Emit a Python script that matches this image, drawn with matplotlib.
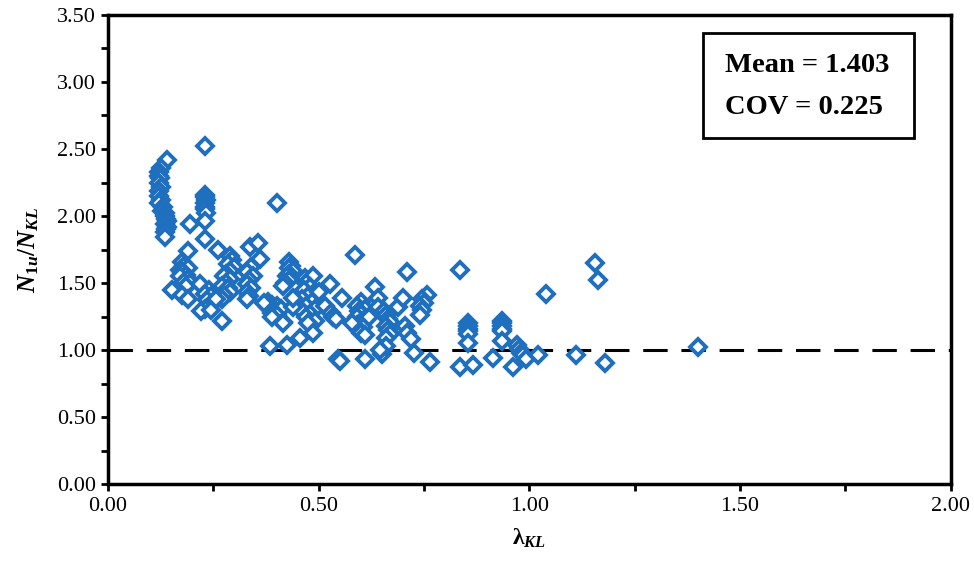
import matplotlib
matplotlib.use('Agg')
import matplotlib.pyplot as plt
from matplotlib.patches import Rectangle
from matplotlib.ticker import MultipleLocator, FormatStrFormatter

plt.rcParams['font.family'] = 'Liberation Serif'
plt.rcParams['mathtext.fontset'] = 'custom'
plt.rcParams['mathtext.rm'] = 'Liberation Serif:bold'
plt.rcParams['mathtext.it'] = 'Liberation Serif:bold:italic'
plt.rcParams['mathtext.bf'] = 'Liberation Serif:bold'

# lambda_KL values, grouped roughly by cluster
lam = [
    0.139, 0.125, 0.12, 0.12, 0.122, 0.12, 0.125, 0.12, 0.12, 0.125, 0.12, 0.13, 0.128,
    0.135, 0.135, 0.138, 0.14, 0.135, 0.14, 0.138, 0.135, 0.135,
    0.23, 0.23, 0.23, 0.232, 0.23, 0.23, 0.23, 0.232, 0.23, 0.195, 0.23,
    0.40,
    0.19, 0.175, 0.18, 0.17, 0.19, 0.175, 0.185, 0.17, 0.19, 0.18, 0.195, 0.185, 0.152, 0.175, 0.19,
    0.26, 0.29, 0.295, 0.285, 0.30, 0.29, 0.28, 0.275, 0.29, 0.28, 0.27, 0.285, 0.29, 0.275, 0.27, 0.27,
    0.218, 0.24, 0.23, 0.245, 0.235, 0.25, 0.24, 0.23, 0.22, 0.245, 0.255,
    0.337, 0.356, 0.36, 0.34, 0.33, 0.345, 0.335, 0.33, 0.34, 0.33, 0.335, 0.33,
    0.43, 0.435, 0.43, 0.44, 0.43, 0.425, 0.43, 0.42, 0.415,
    0.38, 0.39, 0.38, 0.40, 0.395, 0.41, 0.39, 0.40, 0.39, 0.415, 0.37, 0.416, 0.425, 0.385,
    0.467, 0.487, 0.47, 0.48, 0.465, 0.49, 0.475, 0.46, 0.485, 0.47, 0.49, 0.46, 0.48, 0.47,
    0.49, 0.475, 0.487, 0.456, 0.44, 0.44, 0.50, 0.527, 0.515,
    0.555, 0.53, 0.535, 0.54, 0.546, 0.55,
    0.586, 0.60, 0.59, 0.61, 0.595, 0.60, 0.59, 0.61, 0.60, 0.59, 0.605, 0.595, 0.60, 0.61,
    0.58, 0.62, 0.61,
    0.633, 0.64, 0.64, 0.655, 0.66, 0.665, 0.67, 0.66, 0.665, 0.67, 0.66, 0.65, 0.66, 0.645,
    0.709, 0.688, 0.70, 0.705, 0.71, 0.72, 0.725, 0.757, 0.745, 0.75, 0.74, 0.745, 0.74, 0.765,
    0.835, 0.855, 0.855, 0.855, 0.855, 0.855, 0.855, 0.835, 0.866,
    0.934, 0.934, 0.934, 0.934, 0.934, 0.934, 0.914,
    0.96, 0.97, 0.975, 0.98, 0.985, 0.993, 1.02,
    1.04, 1.11, 1.155, 1.163, 1.18, 1.40,
]

# N1u / NKL ratio, same order as lam
ratio = [
    2.42, 2.36, 2.33, 2.30, 2.28, 2.25, 2.22, 2.19, 2.15, 2.12, 2.10, 2.07, 2.04,
    2.02, 2.00, 1.98, 1.96, 1.94, 1.92, 1.90, 1.88, 1.84,
    2.52, 2.16, 2.14, 2.12, 2.10, 2.07, 2.05, 2.02, 1.96, 1.94, 1.83,
    2.10,
    1.74, 1.66, 1.63, 1.60, 1.61, 1.58, 1.56, 1.55, 1.53, 1.51, 1.50, 1.48, 1.45, 1.41, 1.38,
    1.75, 1.70, 1.67, 1.64, 1.62, 1.59, 1.57, 1.55, 1.53, 1.50, 1.48, 1.46, 1.43, 1.41, 1.38, 1.22,
    1.49, 1.45, 1.42, 1.40, 1.37, 1.35, 1.33, 1.31, 1.29, 1.30, 1.38,
    1.77, 1.80, 1.68, 1.62, 1.58, 1.55, 1.52, 1.49, 1.46, 1.43, 1.40, 1.38,
    1.66, 1.63, 1.61, 1.59, 1.57, 1.55, 1.52, 1.50, 1.48,
    1.36, 1.34, 1.32, 1.33, 1.30, 1.31, 1.28, 1.26, 1.25, 1.21, 1.35, 1.20, 1.04, 1.03,
    1.54, 1.55, 1.50, 1.47, 1.45, 1.43, 1.40, 1.38, 1.36, 1.33, 1.31, 1.29, 1.27, 1.25,
    1.22, 1.20, 1.13, 1.09, 1.32, 1.39, 1.43, 1.49, 1.33,
    1.39, 1.28, 1.25, 1.23, 0.93, 0.92,
    1.71, 1.36, 1.33, 1.31, 1.29, 1.27, 1.25, 1.23, 1.21, 1.19, 1.17, 1.15, 1.13, 1.11,
    1.20, 1.25, 0.93,
    1.47, 1.39, 1.32, 1.29, 1.26, 1.23, 1.21, 1.18, 1.15, 1.12, 1.09, 0.97, 1.03, 1.00,
    1.58, 1.32, 1.39, 1.18, 1.13, 1.08, 0.98, 1.41, 1.38, 1.35, 1.33, 1.30, 1.26, 0.91,
    1.60, 1.20, 1.18, 1.16, 1.14, 1.12, 1.05, 0.875, 0.89,
    1.22, 1.20, 1.18, 1.16, 1.14, 1.07, 0.94,
    0.875, 1.04, 1.01, 0.98, 0.96, 0.93, 0.96,
    1.42, 0.96, 1.65, 1.52, 0.90, 1.02,
]

stats_text = ['Mean = 1.403', 'COV = 0.225']

fig = plt.figure(figsize=(9.74, 5.75), dpi=100)
ax = fig.add_axes([0.111, 0.158, 0.865, 0.816])

ax.plot(lam, ratio, linestyle='none', marker='D', markersize=8.5,
        markerfacecolor='white', markeredgecolor='#1F6FBF', markeredgewidth=2.8)
ax.axhline(1.0, color='black', lw=2.2, dashes=(8, 4.5), zorder=1)

ax.set_xlim(0, 2.0)
ax.set_ylim(0, 3.5)
ax.xaxis.set_major_locator(MultipleLocator(0.5))
ax.xaxis.set_minor_locator(MultipleLocator(0.25))
ax.yaxis.set_major_locator(MultipleLocator(0.5))
ax.yaxis.set_minor_locator(MultipleLocator(0.25))
ax.xaxis.set_major_formatter(FormatStrFormatter('%.2f'))
ax.yaxis.set_major_formatter(FormatStrFormatter('%.2f'))
ax.tick_params(which='both', direction='out', width=2, length=5, labelsize=16)
ax.tick_params(axis='x', pad=4)
for s in ax.spines.values():
    s.set_linewidth(2.5)

ax.set_xlabel('λ$_{KL}$', fontsize=17, fontweight='bold', labelpad=8)
ax.set_ylabel('$N_{1u}/N_{KL}$', fontsize=18, labelpad=12)

ax.add_patch(Rectangle((0.706, 0.738), 0.251, 0.224, transform=ax.transAxes,
                       fill=False, edgecolor='black', lw=2, zorder=5))
ax.text(0.732, 0.893, stats_text[0], transform=ax.transAxes, fontsize=20.5,
        fontweight='bold', va='center', ha='left')
ax.text(0.732, 0.802, stats_text[1], transform=ax.transAxes, fontsize=20.5,
        fontweight='bold', va='center', ha='left')

fig.savefig('out.png', dpi=100)
